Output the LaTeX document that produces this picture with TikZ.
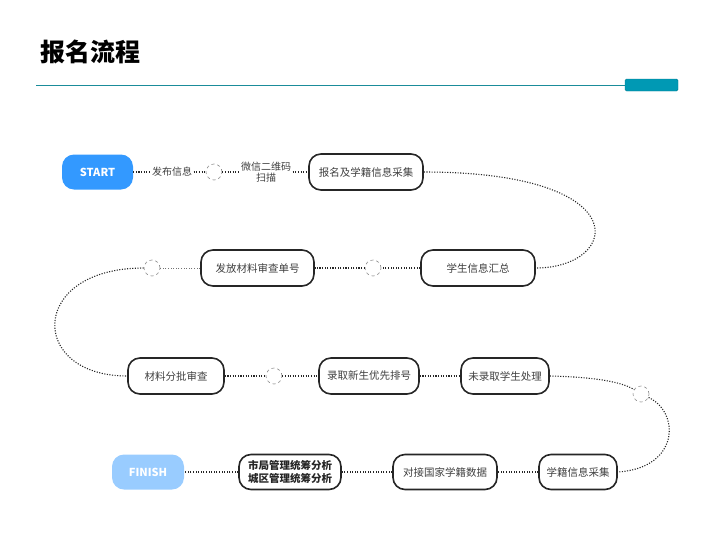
\documentclass[tikz,border=0pt]{standalone}
\usepackage{fontspec}
\setmainfont{Noto Sans CJK SC}
\usetikzlibrary{positioning}
\definecolor{ruleteal}{HTML}{1A8C9A}
\definecolor{tabteal}{HTML}{0099B4}
\definecolor{startblue}{HTML}{3399FF}
\definecolor{finishblue}{HTML}{99CCFF}

\begin{document}
\begin{tikzpicture}[x=1pt,y=-1pt,
  stepbox/.style={draw=black!85, line width=1.6pt, rounded corners=12pt, minimum height=36pt,
    inner sep=0pt, fill=white, text=black!75, font=\fontsize{10.5}{12.5}\selectfont, align=center},
  endbox/.style={rounded corners=12pt, minimum height=35pt, minimum width=72pt, inner sep=0pt,
    text=white, font=\bfseries\fontsize{11}{13}\selectfont},
  link/.style={dash pattern=on 1.1pt off 1.5pt, line width=1.1pt, black!85},
  hole/.style={circle, draw=black!45, dashed, line width=0.6pt, minimum size=16pt, inner sep=0pt, fill=white},
  tag/.style={inner sep=1.5pt, text=black!75, font=\fontsize{10}{11}\selectfont, align=center}]
\useasboundingbox (0,0) rectangle (725,541);
% header
\node[font=\bfseries\fontsize{25}{27}\selectfont, anchor=west] (title) at (37,52) {报名流程};
\coordinate (rule) at (36,85);
\node[draw=tabteal!80!black, fill=tabteal, rounded corners=1.5pt, minimum width=53pt, minimum height=12pt,
  inner sep=0pt] (tab) at (651.5,85) {};
\draw[ruleteal, line width=0.8pt] (rule) -- (tab.west);
% first row
\node[endbox, fill=startblue, minimum width=71pt] (start) at (97.5,172) {START};
\node[tag] (issue) at (172,172) {发布信息};
\node[hole] (h1) at (214,172) {};
\node[tag] (scan) at (266,172) {微信二维码\\扫描};
\node[stepbox, minimum width=114pt] (enrol) at (366,172) {报名及学籍信息采集};
% second row
\node[stepbox, minimum width=114pt] (collect) at (478,268) {学生信息汇总};
\node[hole] (h2) at (373,268) {};
\node[stepbox, minimum width=113pt] (issueno) at (257.5,268) {发放材料审查单号};
\node[hole] (h3) at (152,268) {};
% third row
\node[stepbox, minimum width=96pt] (review) at (176,376) {材料分批审查};
\node[hole] (h4) at (274,376) {};
\node[stepbox, minimum width=100pt] (rank) at (369,376) {录取新生优先排号};
\node[stepbox, minimum width=88pt] (reject) at (505,376) {未录取学生处理};
\node[hole] (h5) at (641,394) {};
% fourth row
\node[stepbox, minimum width=78pt, minimum height=35pt] (record) at (578,472) {学籍信息采集};
\node[stepbox, minimum width=104pt, minimum height=35pt] (nation) at (445,472) {对接国家学籍数据};
\node[stepbox, minimum width=102pt, minimum height=35pt, text=black!85,
  font=\bfseries\fontsize{10.5}{12.5}\selectfont] (analyse) at (290,472) {市局管理统筹分析\\城区管理统筹分析};
\node[endbox, fill=finishblue] (finish) at (148,472) {FINISH};
% connectors
\draw[link] (start) -- (issue);
\draw[link] (issue) -- (h1);
\draw[link] (h1) -- (scan);
\draw[link] (scan) -- (enrol);
\draw[link] (enrol.east) .. controls (640,172) and (620,268) .. (collect.east);
\draw[link] (collect) -- (h2);
\draw[link] (h2) -- (issueno);
\draw[link, black!55, line width=0.8pt] (issueno) -- (h3);
\draw[link] (h3.west) .. controls (28,268) and (28,376) .. (review.west);
\draw[link] (review) -- (h4);
\draw[link] (h4) -- (rank);
\draw[link] (rank) -- (reject);
\draw[link] (reject.east) .. controls (595,377) and (622,382) .. (h5);
\draw[link] (h5) .. controls (680,412) and (680,468) .. (record.east);
\draw[link] (record) -- (nation);
\draw[link] (nation) -- (analyse);
\draw[link] (analyse) -- (finish);
\end{tikzpicture}
\end{document}
